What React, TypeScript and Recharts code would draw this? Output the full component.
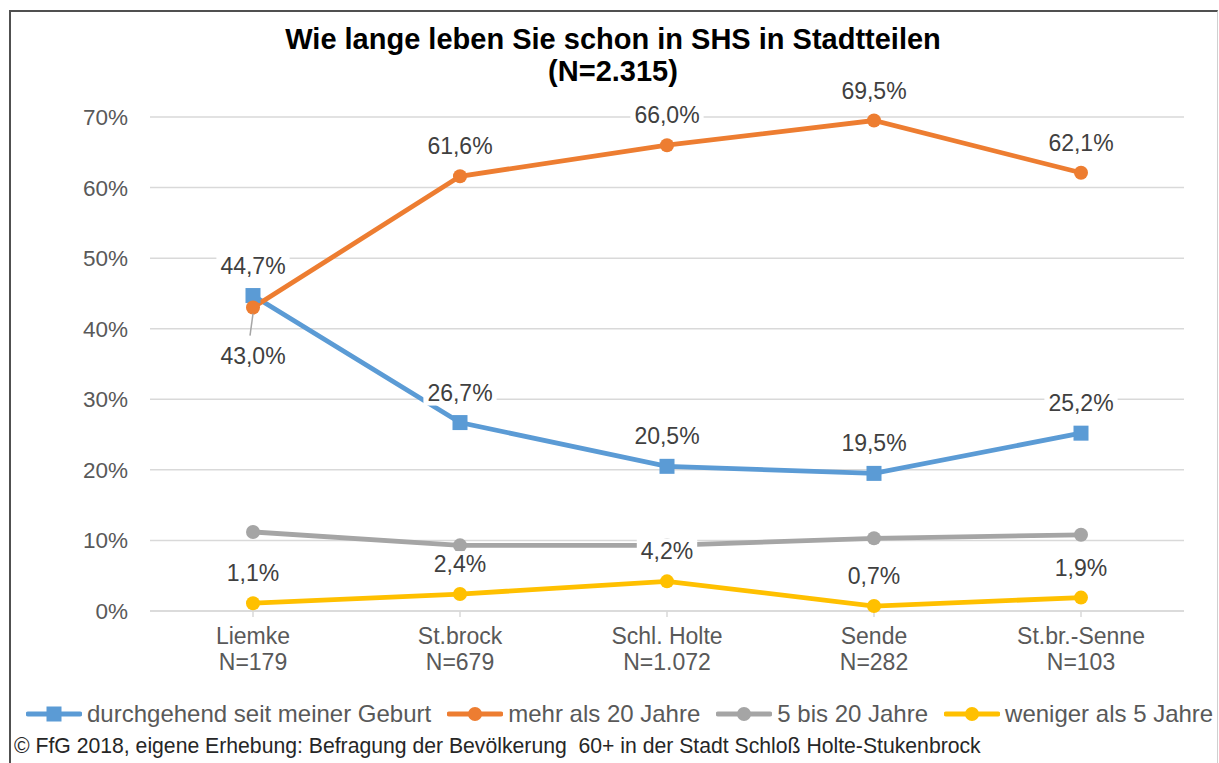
import { LineChart, Line, XAxis, YAxis, CartesianGrid, LabelList } from "recharts";

const districts = ["Liemke", "St.brock", "Schl. Holte", "Sende", "St.br.-Senne"];
const sampleSizes = ["N=179", "N=679", "N=1.072", "N=282", "N=103"];
const sinceBirth = [44.7, 26.7, 20.5, 19.5, 25.2];
const over20 = [43.0, 61.6, 66.0, 69.5, 62.1];
const from5to20 = [11.2, 9.3, 9.3, 10.3, 10.8];
const under5 = [1.1, 2.4, 4.2, 0.7, 1.9];
const yTicks = [0, 10, 20, 30, 40, 50, 60, 70];

const FONT = '"Liberation Sans", Arial, sans-serif';
const AXIS_GREY = "#595959";
const LABEL_GREY = "#404040";

const SERIES = [
  { key: "sinceBirth", name: "durchgehend seit meiner Geburt", color: "#5B9BD5", square: true, labels: true },
  { key: "over20", name: "mehr als 20 Jahre", color: "#ED7D31", square: false, labels: true },
  { key: "from5to20", name: "5 bis 20 Jahre", color: "#A5A5A5", square: false, labels: false },
  { key: "under5", name: "weniger als 5 Jahre", color: "#FFC000", square: false, labels: true },
];

const rows = districts.map((d, i) => ({
  district: d,
  sinceBirth: sinceBirth[i],
  over20: over20[i],
  from5to20: from5to20[i],
  under5: under5[i],
}));

const fmt = (v: number) => v.toFixed(1).replace(".", ",") + "%";

function textWidth(s: string, size: number) {
  let w = 0;
  for (const c of s) w += c === "," ? 0.278 : c === "%" ? 0.889 : 0.556;
  return w * size;
}

// label with white box; "below" puts it under the point with a leader line
function ValueLabel(props: any) {
  const { x, y, value, index, below } = props;
  if (x == null || y == null) return null;
  const text = fmt(Number(value));
  const size = 23;
  const w = textWidth(text, size) + 8;
  const isBelow = below && index === 0;
  const cy = isBelow ? y + 48 : y - 30;
  return (
    <g>
      {isBelow && <line x1={x} y1={y + 6} x2={x - 3} y2={y + 28} stroke="#a6a6a6" strokeWidth={1.5} />}
      <rect x={x - w / 2} y={cy - 13} width={w} height={26} fill="#ffffff" />
      <text
        x={x}
        y={cy}
        textAnchor="middle"
        dominantBaseline="central"
        fontSize={size}
        fontFamily={FONT}
        fill={LABEL_GREY}
      >
        {text}
      </text>
    </g>
  );
}

function DistrictTick(props: any) {
  const { x, y, payload, index } = props;
  return (
    <g>
      <text x={x} y={y + 27} textAnchor="middle" fontSize={23} fontFamily={FONT} fill={AXIS_GREY}>
        {payload.value}
      </text>
      <text x={x} y={y + 53} textAnchor="middle" fontSize={23} fontFamily={FONT} fill={AXIS_GREY}>
        {sampleSizes[index]}
      </text>
    </g>
  );
}

function SquareDot(props: any) {
  const { cx, cy, index } = props;
  if (cx == null || cy == null) return <g key={index} />;
  return <rect key={index} x={cx - 7.5} y={cy - 7.5} width={15} height={15} fill="#5B9BD5" />;
}

function LegendIcon({ color, square }: { color: string; square: boolean }) {
  return (
    <svg width={56} height={20} style={{ display: "block" }}>
      <line x1={2} y1={10} x2={54} y2={10} stroke={color} strokeWidth={4.8} strokeLinecap="round" />
      {square ? <rect x={20.5} y={2.5} width={15} height={15} fill={color} /> : <circle cx={28} cy={10} r={7} fill={color} />}
    </svg>
  );
}

export default function App() {
  return (
    <div
      style={{
        position: "absolute",
        left: 0,
        top: 0,
        width: 1219,
        height: 763,
        background: "#fff",
        fontFamily: FONT,
        overflow: "hidden",
      }}
    >
      {/* frame */}
      <div
        style={{
          position: "absolute",
          left: 9,
          top: 10,
          width: 1206,
          height: 770,
          borderTop: "2px solid #505050",
          borderLeft: "2px solid #505050",
          borderRight: "1px solid #d0d0d0",
        }}
      />

      <div style={{ position: "absolute", left: 0, top: 23, width: 1226, textAlign: "center", fontWeight: "bold", fontSize: 29, lineHeight: "32px", color: "#000" }}>
        Wie lange leben Sie schon in SHS in Stadtteilen
        <br />
        (N=2.315)
      </div>

      <div style={{ position: "absolute", left: 0, top: 0 }}>
        <LineChart width={1219} height={763} data={rows} margin={{ top: 117, right: 35, bottom: 122, left: 0 }}>
          <CartesianGrid vertical={false} stroke="#d9d9d9" strokeWidth={1.5} />
          <XAxis
            dataKey="district"
            height={30}
            padding={{ left: 103, right: 103 }}
            stroke="#d9d9d9"
            strokeWidth={1.5}
            tickSize={6}
            tickMargin={0}
            interval={0}
            tick={<DistrictTick />}
          />
          <YAxis
            width={150}
            domain={[0, 70]}
            ticks={yTicks}
            axisLine={false}
            tickLine={false}
            tickSize={0}
            tickMargin={22}
            tickFormatter={(v) => `${v}%`}
            tick={{ fontSize: 22.5, fill: AXIS_GREY, fontFamily: FONT }}
          />
          {SERIES.map((s) => (
            <Line
              key={s.key}
              dataKey={s.key}
              name={s.name}
              type="linear"
              stroke={s.color}
              strokeWidth={4.8}
              dot={s.square ? SquareDot : { r: 7, fill: s.color, stroke: s.color, strokeWidth: 0 }}
              activeDot={false}
              isAnimationActive={false}
            >
              {s.labels && (
                <LabelList dataKey={s.key} content={(p: any) => <ValueLabel {...p} below={s.key === "over20"} />} />
              )}
            </Line>
          ))}
        </LineChart>
      </div>

      {/* legend */}
      <div style={{ position: "absolute", left: 26, top: 700, display: "flex", alignItems: "center", fontSize: 24, lineHeight: "28px", color: AXIS_GREY, whiteSpace: "nowrap" }}>
        {SERIES.map((s, i) => (
          <div key={s.key} style={{ display: "flex", alignItems: "center", marginRight: i < SERIES.length - 1 ? 16 : 0 }}>
            <LegendIcon color={s.color} square={s.square} />
            <span style={{ marginLeft: 5 }}>{s.name}</span>
          </div>
        ))}
      </div>

      <div style={{ position: "absolute", left: 14, top: 733, fontSize: 21.2, lineHeight: "26px", color: "#262626", whiteSpace: "pre" }}>
        © FfG 2018, eigene Erhebung: Befragung der Bevölkerung  60+ in der Stadt Schloß Holte-Stukenbrock
      </div>
    </div>
  );
}
